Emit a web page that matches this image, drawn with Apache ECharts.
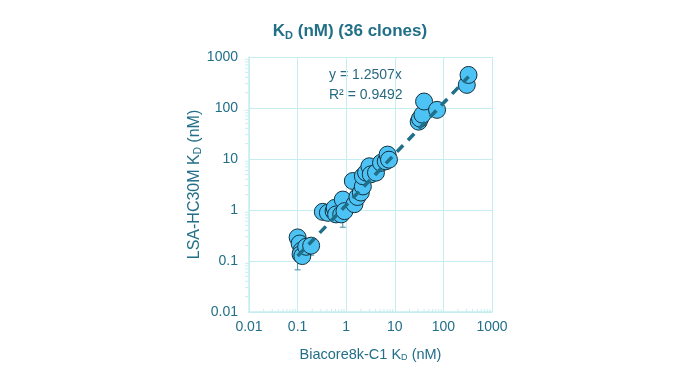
<!DOCTYPE html>
<html><head><meta charset="utf-8">
<script src="https://cdn.jsdelivr.net/npm/echarts@6/dist/echarts.min.js"></script>
<style>html,body{margin:0;padding:0;background:#fff}#c{width:691px;height:388px}</style>
</head><body><div id="c"></div>
<script>
const xVals = [0.10,0.11,0.12,0.115,0.125,0.15,0.19, 0.33,0.42,0.55,0.58,0.62,0.79,0.85,0.92,1.37,1.48,1.7,2.0,2.2,2.2,2.56,3.0,3.2,4.1,5.2,6.5,7.1,7.6, 31,33,37,40,74,303,329];
const yVals = [0.29,0.22,0.16,0.135,0.125,0.19,0.20, 0.92,0.88,0.95,1.1,0.82,0.82,1.6,0.95,3.7,1.3,1.8,2.2,2.9,4.6,5.4,7.2,5.0,5.4,8.4,9.0,12.2,9.7, 54,62,74,134,92,284,445];
const errX = [0.10, 0.19, 0.85, 1.45, 37];
const errLow = [0.067, 0.13, 0.46, 0.92, 45];
const errHigh = [0.37, 0.24, 1.7, 1.6, 80];
const slope = 1.2507;
const r2 = 0.9492;
const trendRange = [0.1, 330];
const tickLabels = ['0.01','0.1','1','10','100','1000'];

const teal = '#226f88';
const gridC = '#c6eef0';
const pts = xVals.map((x,i)=>[x,yVals[i]]);
const errData = errX.map((x,i)=>[x,errLow[i],errHigh[i]]);
const trend = trendRange.map(x=>[x, slope*x]);
const minorV = [];
for (let e=-2;e<3;e++) for (let m=2;m<10;m++){ minorV.push(m*Math.pow(10,e)); }

const chart = echarts.init(document.getElementById('c'));
const fmt = v => { const s = String(+v.toPrecision(3)); return tickLabels.includes(s) ? s : ''; };
chart.setOption({
  animation:false,
  textStyle:{fontFamily:'Liberation Sans, Arial, sans-serif'},
  title:{
    left: 345, textAlign:'center', top:17,
    text:'{a|K}{s|D}{a| (nM) (36 clones)}',
    textStyle:{rich:{
      a:{fontSize:17,fontWeight:'bold',color:teal,fontFamily:'Liberation Sans'},
      s:{fontSize:11,fontWeight:'bold',color:teal,fontFamily:'Liberation Sans',padding:[8,0,0,0]}
    }}
  },
  grid:{left:249,right:199,top:57,bottom:76},
  xAxis:{
    type:'log', min:0.01, max:1000, logBase:10,
    name:'{a|Biacore8k-C1 K}{s|D}{a| (nM)}', nameLocation:'middle', nameGap:35,
    nameTextStyle:{rich:{
      a:{fontSize:14.5,color:teal,fontFamily:'Liberation Sans'},
      s:{fontSize:9,color:teal,fontFamily:'Liberation Sans',padding:[6,0,0,0]}
    }},
    axisLine:{lineStyle:{color:gridC,width:1.5}},
    axisTick:{show:false},
    splitLine:{show:true,lineStyle:{color:gridC,width:1}},
    axisLabel:{color:teal,fontSize:14,margin:8,formatter:fmt}
  },
  yAxis:{
    type:'log', min:0.01, max:1000, logBase:10,
    name:'{a|LSA-HC30M K}{s|D}{a| (nM)}', nameLocation:'middle', nameGap:44, nameRotate:90,
    nameTextStyle:{rich:{
      a:{fontSize:16,color:teal,fontFamily:'Liberation Sans'},
      s:{fontSize:10,color:teal,fontFamily:'Liberation Sans',padding:[7,0,0,0]}
    }},
    axisLine:{lineStyle:{color:gridC,width:1.5}},
    axisTick:{show:false},
    splitLine:{show:true,lineStyle:{color:gridC,width:1}},
    axisLabel:{color:teal,fontSize:14,margin:11,formatter:fmt}
  },
  graphic:[{
    type:'text', left:329, top:65,
    style:{text:'y = 1.2507x\nR² = 0.9492', fill:'#2a6a80', fontSize:14, lineHeight:20, fontFamily:'Liberation Sans'}
  }],
  series:[
    { type:'custom', silent:true, z:1, clip:false,
      data: minorV.map(v=>[v]),
      renderItem:(p,api)=>{
        const a = api.coord([api.value(0), 0.01]);
        const b = api.coord([0.01, api.value(0)]);
        return {type:'group',children:[
          {type:'line',shape:{x1:a[0],y1:a[1],x2:a[0],y2:a[1]-3},style:{stroke:gridC,lineWidth:1}},
          {type:'line',shape:{x1:b[0],y1:b[1],x2:b[0]-4,y2:b[1]},style:{stroke:gridC,lineWidth:1}}
        ]};
      }
    },
    { type:'custom', z:2, data: errData,
      renderItem:(p,api)=>{
        const lo = api.coord([api.value(0), api.value(1)]);
        const hi = api.coord([api.value(0), api.value(2)]);
        const st = {stroke:'#3f8ea3',lineWidth:1};
        return {type:'group',children:[
          {type:'line',shape:{x1:lo[0],y1:lo[1],x2:hi[0],y2:hi[1]},style:st},
          {type:'line',shape:{x1:lo[0]-3,y1:lo[1],x2:lo[0]+3,y2:lo[1]},style:st},
          {type:'line',shape:{x1:hi[0]-3,y1:hi[1],x2:hi[0]+3,y2:hi[1]},style:st}
        ]};
      }
    },
    { type:'scatter', z:3, data: pts, symbolSize:17,
      itemStyle:{color:'#4cc3f4',borderColor:'#14303d',borderWidth:1,opacity:1}
    },
    { type:'line', z:4, data: trend, symbol:'none',
      lineStyle:{color:'#1f6f88',width:3.5,type:[9,7]}
    }
  ]
});
</script></body></html>
